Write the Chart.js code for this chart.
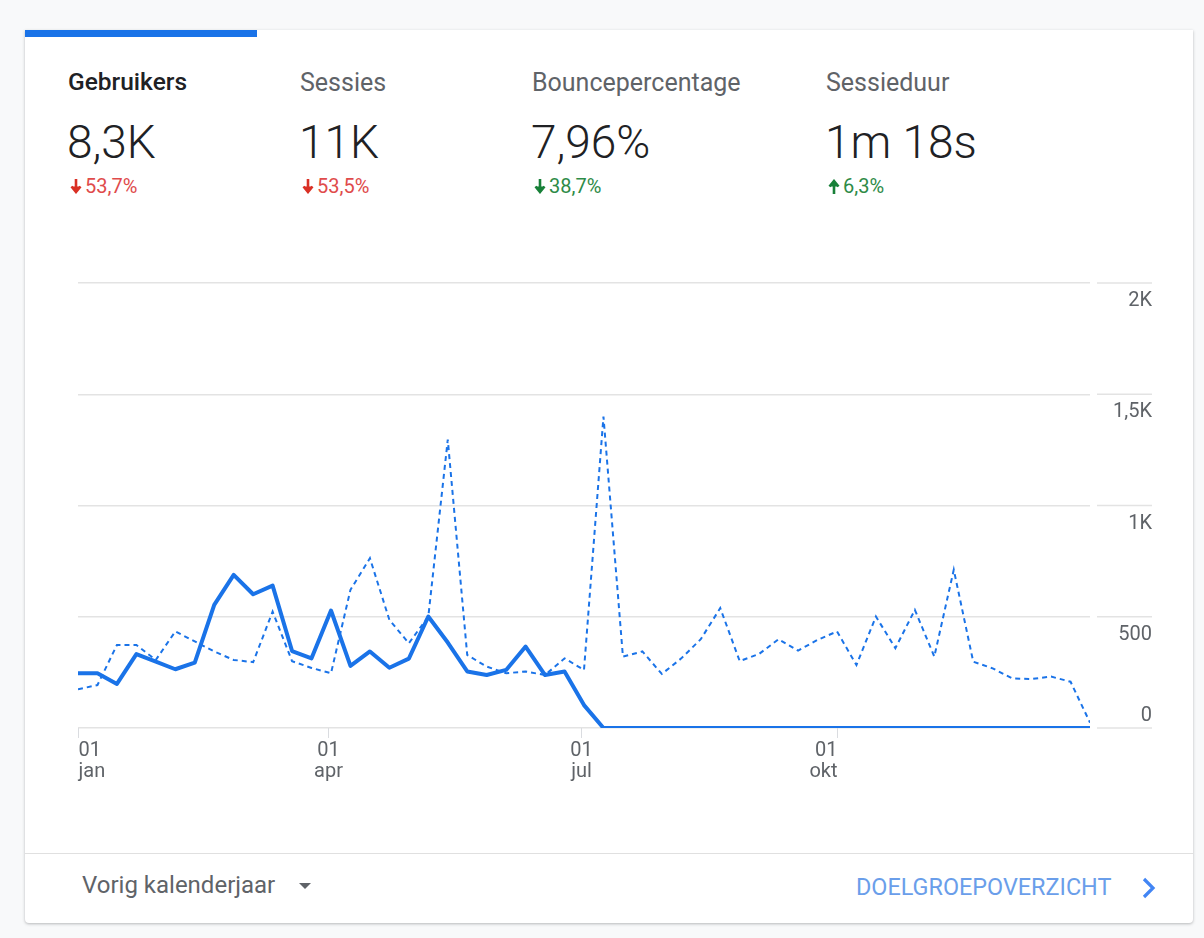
<!DOCTYPE html>
<html>
<head>
<meta charset="utf-8">
<script src="https://cdn.jsdelivr.net/npm/chart.js@4"></script>
<style>
  body { margin: 0; width: 1204px; height: 938px; background: #f8f9fa; font-family: Roboto, "Noto Sans", sans-serif; position: relative; overflow: hidden; }
  .card { position: absolute; left: 25px; top: 30px; width: 1168px; height: 893px; background: #fff; border-radius: 0 0 4px 4px; box-shadow: 0 1px 3px rgba(60,64,67,.35); }
  .tabbar { position: absolute; left: 25px; top: 30px; width: 232px; height: 7px; background: #1a73e8; }
  .abs { position: absolute; line-height: 1; white-space: nowrap; }
  .lbl { font-size: 25px; color: #5f6368; top: 70px; }
  .lbl.sel { color: #202124; font-weight: 500; font-size: 24.5px; }
  .val { font-size: 46px; color: #202124; top: 119px; font-weight: 300; }
  .chg { font-size: 20px; top: 176px; }
  .chg svg { vertical-align: -1px; margin-right: 3px; }
  .down { color: #d93025; }
  .down span { color: #e04b4b; }
  .good { color: #188038; }
  .good span { color: #2e8b47; }
  .divider { position: absolute; left: 25px; top: 853px; width: 1168px; height: 1px; background: #e0e0e0; }
  #wrap { position: absolute; left: 25px; top: 240px; width: 1170px; height: 570px; }
</style>
</head>
<body>
<div class="card"></div>
<div class="tabbar"></div>

<div class="abs lbl sel" style="left:68px">Gebruikers</div>
<div class="abs lbl" style="left:300px">Sessies</div>
<div class="abs lbl" style="left:532px">Bouncepercentage</div>
<div class="abs lbl" style="left:826px">Sessieduur</div>

<div class="abs val" style="left:67px">8,3K</div>
<div class="abs val" style="left:299px">11K</div>
<div class="abs val" style="left:531px">7,96%</div>
<div class="abs val" style="left:825px">1m 18s</div>

<div class="abs chg down" style="left:70px"><svg width="12" height="15" viewBox="0 0 12 15"><path d="M6 0v11M1.5 7.5L6 13l4.5-5.5" stroke="currentColor" stroke-width="2.6" fill="currentColor"/></svg><span>53,7%</span></div>
<div class="abs chg down" style="left:302px"><svg width="12" height="15" viewBox="0 0 12 15"><path d="M6 0v11M1.5 7.5L6 13l4.5-5.5" stroke="currentColor" stroke-width="2.6" fill="currentColor"/></svg><span>53,5%</span></div>
<div class="abs chg good" style="left:534px"><svg width="12" height="15" viewBox="0 0 12 15"><path d="M6 0v11M1.5 7.5L6 13l4.5-5.5" stroke="currentColor" stroke-width="2.6" fill="currentColor"/></svg><span>38,7%</span></div>
<div class="abs chg good" style="left:828px"><svg width="12" height="15" viewBox="0 0 12 15"><path d="M6 15V4M1.5 7.5L6 2l4.5 5.5" stroke="currentColor" stroke-width="2.6" fill="currentColor"/></svg><span>6,3%</span></div>

<div id="wrap"><canvas id="traffic"></canvas></div>

<div class="divider"></div>
<div class="abs" style="left:82px; top:873px; font-size:24px; color:#5f6368;">Vorig kalenderjaar</div>
<svg class="abs" style="left:299px; top:883px" width="12" height="7"><path d="M0 0h12L6 6z" fill="#5f6368"/></svg>
<div class="abs" style="left:856px; top:876px; font-size:23.4px; color:#6a9eea;">DOELGROEPOVERZICHT</div>
<svg class="abs" style="left:1141px; top:877px" width="16" height="22"><path d="M3 2l9 9-9 9" stroke="#4285f4" stroke-width="3.2" fill="none"/></svg>

<script>
// weekly points, offset in days from 1 jan
var weekDays = [];
for (var i = 0; i < 53; i++) weekDays.push(i * 7);

var usersThisYear = [246, 246, 198, 332, 298, 264, 294, 553, 688, 601, 640, 346, 313, 528,
  279, 344, 271, 312, 501, 384, 254, 238, 261, 366, 238, 254, 103, 0, 0, 0, 0, 0, 0, 0, 0,
  0, 0, 0, 0, 0, 0, 0, 0, 0, 0, 0, 0, 0, 0, 0, 0, 0, 0];
var usersLastYear = [174, 193, 373, 373, 306, 434, 389, 344, 306, 296, 523, 300, 270, 246,
  621, 763, 486, 381, 501, 1296, 328, 276, 246, 254, 238, 313, 261, 1400, 321, 344, 243,
  313, 399, 539, 301, 333, 399, 348, 396, 434, 283, 501, 359, 531, 321, 711, 298, 268, 223,
  220, 231, 208, 24];

var xTickDays = [0, 90, 181, 273];
var xTickDay = ['01', '01', '01', '01'];
var xTickMonth = ['jan', 'apr', 'jul', 'okt'];
var yTickValues = [0, 500, 1000, 1500, 2000];
var yTickLabels = ['0', '500', '1K', '1,5K', '2K'];

function points(values) {
  return values.map(function (v, i) { return { x: weekDays[i], y: v }; });
}

var axisText = {
  id: 'axisText',
  afterDraw: function (chart) {
    var c = chart.ctx, area = chart.chartArea;
    var xs = chart.scales.x, ys = chart.scales.y;
    c.save();
    c.font = '20px Roboto';
    c.fillStyle = '#5f6368';
    c.strokeStyle = '#e3e3e3';
    c.lineWidth = 1.5;
    // y labels on the right
    c.textAlign = 'right';
    c.textBaseline = 'alphabetic';
    yTickValues.forEach(function (v, i) {
      var y = ys.getPixelForValue(v);
      c.beginPath();
      c.moveTo(area.right + 7, y);
      c.lineTo(area.right + 62, y);
      c.stroke();
      c.fillText(yTickLabels[i], area.right + 62, v === 0 ? y - 7 : y + 23);
    });
    // x ticks and month labels
    c.strokeStyle = '#dadce0';
    c.lineWidth = 1;
    xTickDays.forEach(function (d, i) {
      var x = Math.round(xs.getPixelForValue(d)) + 0.5;
      c.beginPath();
      c.moveTo(x, area.bottom);
      c.lineTo(x, area.bottom + 10);
      c.stroke();
      c.textAlign = i === 0 ? 'left' : (i === xTickDays.length - 1 ? 'right' : 'center');
      c.fillText(xTickDay[i], x, area.bottom + 28);
      c.fillText(xTickMonth[i], x, area.bottom + 49);
    });
    c.restore();
  }
};

new Chart(document.getElementById('traffic'), {
  type: 'line',
  data: {
    datasets: [{
      label: 'Gebruikers',
      data: points(usersThisYear),
      borderColor: '#1a73e8',
      borderWidth: 4,
      pointRadius: 0,
      tension: 0,
      borderJoinStyle: 'round'
    }, {
      label: 'Gebruikers (vorig jaar)',
      data: points(usersLastYear),
      borderColor: '#1a73e8',
      borderWidth: 2,
      borderDash: [5, 4],
      pointRadius: 0,
      tension: 0
    }]
  },
  options: {
    responsive: true,
    maintainAspectRatio: false,
    animation: false,
    layout: { padding: { left: 53, right: 105, top: 43, bottom: 82 } },
    plugins: { legend: { display: false }, tooltip: { enabled: false } },
    scales: {
      x: {
        type: 'linear', min: 0, max: 364,
        ticks: { display: false },
        grid: { display: false },
        border: { display: false },
        afterFit: function (s) { s.height = 0; }
      },
      y: {
        position: 'right', min: 0, max: 2000,
        ticks: { display: false, stepSize: 500 },
        grid: { color: '#e3e3e3', lineWidth: 1.5, drawTicks: false },
        border: { display: false },
        afterFit: function (s) { s.width = 0; }
      }
    }
  },
  plugins: [axisText]
});
</script>
</body>
</html>
